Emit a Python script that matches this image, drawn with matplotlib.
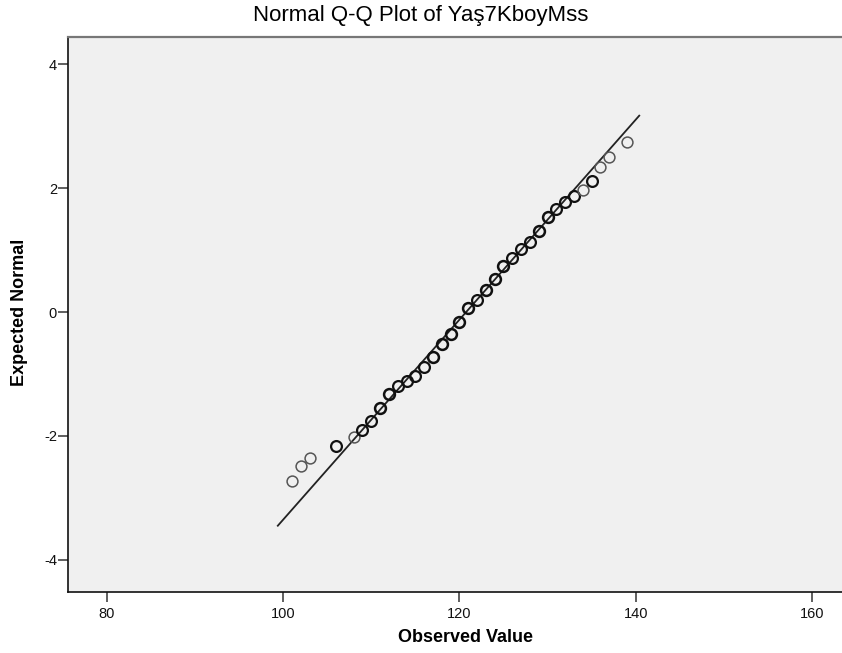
import matplotlib
matplotlib.use("Agg")
import matplotlib.pyplot as plt

plt.rcParams['font.family'] = ['Liberation Sans', 'DejaVu Sans']

# Observed values and expected normal quantiles
observed = [101, 102, 103, 106, 108, 109, 110, 111, 112, 113, 114, 115, 116, 117,
            118, 119, 120, 121, 122, 123, 124, 125, 126, 127, 128, 129, 130, 131,
            132, 133, 134, 135, 136, 137, 139]
expected = [-2.73, -2.49, -2.35, -2.16, -2.02, -1.91, -1.76, -1.55, -1.32, -1.19,
            -1.11, -1.03, -0.89, -0.73, -0.52, -0.35, -0.16, 0.06, 0.19, 0.35,
            0.54, 0.74, 0.87, 1.01, 1.13, 1.31, 1.53, 1.67, 1.78, 1.87, 1.97,
            2.12, 2.34, 2.50, 2.74]
# number of cases at each observed value (estimated, from circle darkness)
n_cases = [1, 1, 1, 2, 1, 2, 2, 3, 3, 2, 2, 2, 2, 3, 3, 3, 3, 3, 2, 3,
           3, 3, 2, 2, 2, 3, 3, 2, 2, 2, 1, 2, 1, 1, 1]

# Reference line end points
line_x = [99.4, 140.4]
line_y = [-3.45, 3.17]

x_ticks = [80, 100, 120, 140, 160]
y_ticks = [-4, -2, 0, 2, 4]

fig = plt.figure(figsize=(8.42, 6.53), dpi=100)
ax = fig.add_axes([68/842, 1 - 592/653, 1 - 68/842, (592 - 37)/653])
ax.set_facecolor('#f0f0f0')

ax.plot(line_x, line_y, color='#222222', lw=1.3, zorder=2)

for x, y, n in zip(observed, expected, n_cases):
    if n == 1:
        ax.plot([x], [y], 'o', ms=7.8, mfc='none', mec='#555555', mew=1.1, zorder=3)
    else:
        ax.plot([x], [y], 'o', ms=7.8, mfc='none', mec='#111111', mew=1.6 + 0.2*(n-2), zorder=3)

ax.set_xlim(75.6, 163.4)
ax.set_ylim(-4.52, 4.44)
ax.set_xticks(x_ticks)
ax.set_yticks(y_ticks)
ax.set_xticklabels([str(v) for v in x_ticks])
ax.set_yticklabels([str(v) for v in y_ticks])
ax.tick_params(axis='both', direction='out', length=7, width=1.2, color='#444444',
               labelsize=10.5, labelcolor='#111111')
ax.tick_params(axis='x', pad=4)
ax.tick_params(axis='y', pad=1)

for side in ['left', 'bottom']:
    ax.spines[side].set_color('#111111')
    ax.spines[side].set_linewidth(1.2)
ax.spines['top'].set_color('#777777')
ax.spines['top'].set_linewidth(1.6)
ax.spines['right'].set_visible(False)

ax.set_xlabel('Observed Value', fontsize=13, fontweight='bold')
ax.set_ylabel('Expected Normal', fontsize=13, fontweight='bold')
ax.xaxis.set_label_coords((466 - 68) / 774, -(637 - 592) / 555)
ax.yaxis.set_label_coords(-(68 - 20) / 774, (592 - 312) / 555)
ax.xaxis.label.set_va('center')
ax.yaxis.label.set_va('center')
fig.text(421/842, 1 - 15/653, 'Normal Q-Q Plot of Yaş7KboyMss', ha='center',
         va='center', fontsize=16)

fig.savefig('out.png', dpi=100, facecolor='white')
